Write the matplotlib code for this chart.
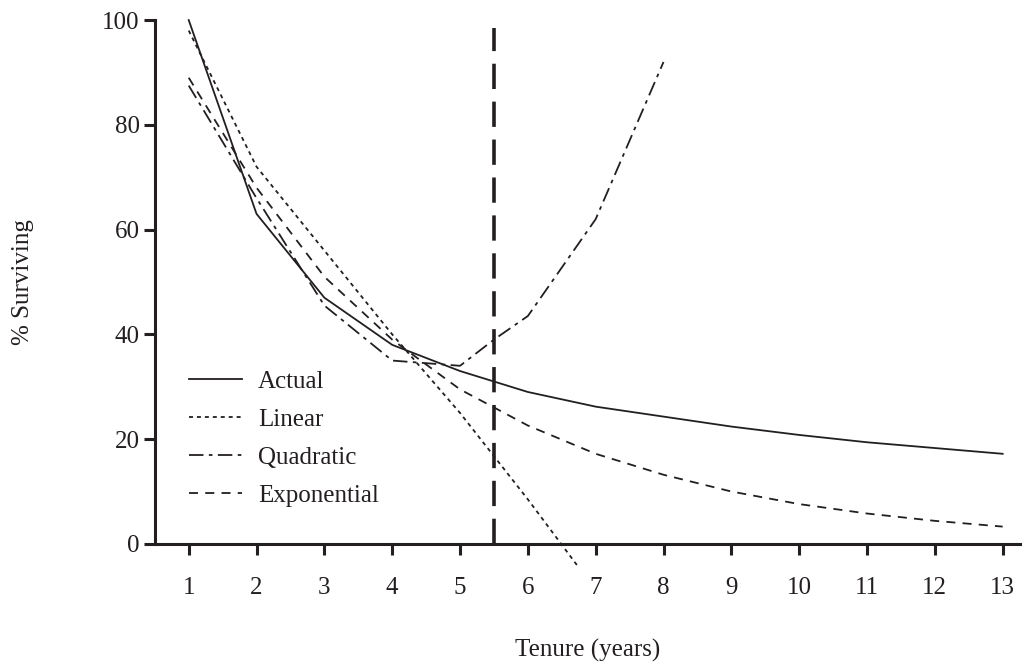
#!/usr/bin/env python3

import numpy as np
import matplotlib
matplotlib.use("Agg")
import matplotlib.pyplot as plt

# -----------------------------------------------------
# values
years      = [1, 2, 3, 4, 5, 6, 7, 8, 9, 10, 11, 12, 13]
actual     = [100, 63, 47, 38, 33, 29, 26.2, 24.3, 22.4, 20.8, 19.4, 18.3, 17.2]
exp_fit    = [89, 68, 51, 39, 29.5, 22.6, 17.2, 13.2, 10, 7.6, 5.8, 4.4, 3.3]

lin_years  = [1, 2, 3, 4, 5, 6, 6.75]
lin_fit    = [98, 72, 56, 40, 25, 8.5, -4.5]

quad_years = [1, 2, 3, 4, 5, 5.5, 6, 7, 8]
quad_fit   = [87.5, 66, 45.5, 35, 34, 39, 43.5, 62, 92]

cutoff_year = 5.5
cutoff_top  = 98.5

ink = "#231f20"
# -----------------------------------------------------

plt.rcParams["font.family"] = ["Liberation Serif", "DejaVu Serif"]

fig = plt.figure(figsize=(10.32, 6.69), dpi=100)
ax = fig.add_axes([0.150, 0.187, 0.838, 0.783])

lw = 1.3
ax.plot(years, actual, color=ink, lw=lw, ls="-", label="Actual", clip_on=False)
ax.plot(lin_years, lin_fit, color=ink, lw=lw, ls=(0, (2.2, 2.2)), label="Linear", clip_on=False)
ax.plot(quad_years, quad_fit, color=ink, lw=lw, ls=(0, (8, 3, 2, 3)), label="Quadratic", clip_on=False)
ax.plot(years, exp_fit, color=ink, lw=lw, ls=(0, (5, 4)), label="Exponential", clip_on=False)

ax.plot([cutoff_year, cutoff_year], [0, cutoff_top], color=ink, lw=2.6,
        ls=(0, (7, 3.5)), clip_on=False)

ax.set_xlim(0.5, 13.25)
ax.set_ylim(0, 100)
ax.set_xticks(years)
ax.set_yticks(np.arange(0, 101, 20))

for s in ("top", "right"):
    ax.spines[s].set_visible(False)
for s in ("left", "bottom"):
    ax.spines[s].set_linewidth(2.2)
    ax.spines[s].set_color(ink)

ax.tick_params(direction="out", length=8, width=2.2, color=ink,
               labelsize=18, labelcolor=ink)
ax.tick_params(axis="x", pad=16)
ax.tick_params(axis="y", pad=3)

ax.set_xlabel("Tenure (years)", fontsize=18, color=ink)
ax.set_ylabel("% Surviving", fontsize=18, color=ink)
ax.xaxis.set_label_coords(0.5, -0.182)
ax.yaxis.set_label_coords(-0.140, 0.5)

ax.legend(loc="upper left", bbox_to_anchor=(0.028, 0.35), borderaxespad=0,
          frameon=False, fontsize=18, handlelength=2.1, handletextpad=0.65,
          labelspacing=0.62, labelcolor=ink)

fig.savefig("out.png", dpi=100)
